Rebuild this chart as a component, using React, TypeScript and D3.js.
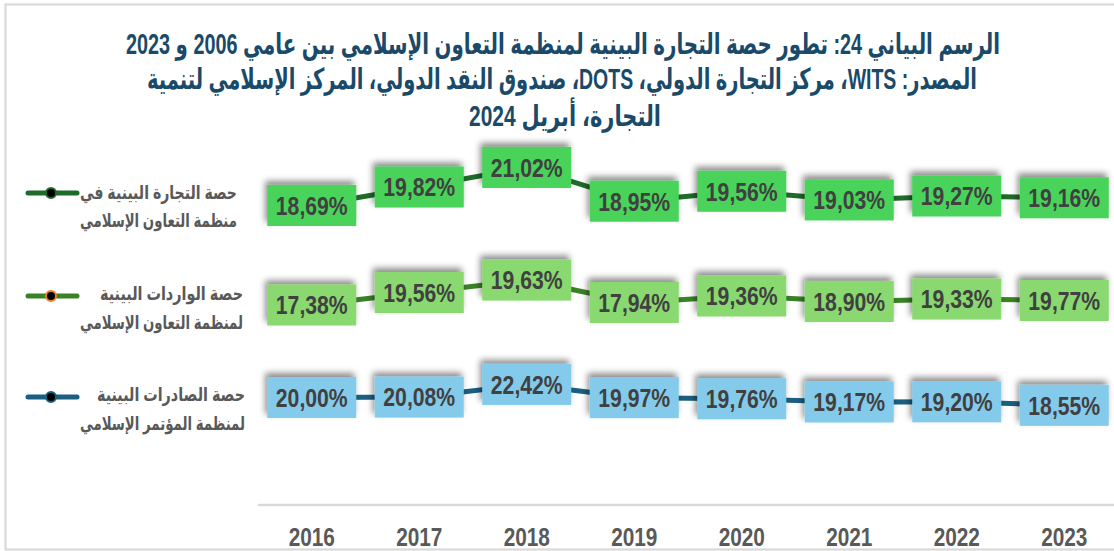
import React from "react";
import * as d3 from "d3";

const years = ["2016", "2017", "2018", "2019", "2020", "2021", "2022", "2023"];
// Labels shown in the chart (%)
const totalShare = [18.69, 19.82, 21.02, 18.95, 19.56, 19.03, 19.27, 19.16];
const importShare = [17.38, 19.56, 19.63, 17.94, 19.36, 18.9, 19.33, 19.77];
const exportShare = [20.0, 20.08, 22.42, 19.97, 19.76, 19.17, 19.2, 18.55];
// The original chart plots the import series at values that differ from its labels
// (read from the point positions in the picture)
const importPlotted = [17.38, 19.69, 22.0, 17.84, 19.05, 18.03, 18.49, 18.21];

const titleLines = [
  "الرسم البياني 24: تطور حصة التجارة البينية لمنظمة التعاون الإسلامي بين عامي 2006 و 2023",
  "المصدر: WITS، مركز التجارة الدولي، DOTS، صندوق النقد الدولي، المركز الإسلامي لتنمية",
  "التجارة، أبريل 2024",
];
const legendTotal = ["حصة التجارة البينية في", "منظمة التعاون الإسلامي"];
const legendImports = ["حصة الواردات البينية", "لمنظمة التعاون الإسلامي"];
const legendExports = ["حصة الصادرات البينية", "لمنظمة المؤتمر الإسلامي"];

const fmt = (v: number) => v.toFixed(2).replace(".", ",") + "%";

const LATIN = "'Liberation Sans', Arial, 'DejaVu Sans', sans-serif";

export default function App() {
  const W = 1114;
  const H = 551;
  const x = d3.scaleBand<string>().domain(years).range([258, 1118]);
  const cx = (y: string) => (x(y) as number) + x.bandwidth() / 2;

  const yTotal = d3.scaleLinear().domain([18, 22]).range([216.7, 151.5]);
  const yImports = d3.scaleLinear().domain([17, 23]).range([307.05, 274.65]);
  const yExports = d3.scaleLinear().domain([18, 23]).range([408.3, 381.3]);

  const series = [
    {
      labels: totalShare,
      plot: totalShare,
      y: yTotal,
      line: "#1f6b29",
      fill: "#48d35a",
      marker: "#1f6b29",
      legend: legendTotal,
      legendY: 193,
      legendText: [
        { cx: 158.5, w: 157, y: 193 },
        { cx: 158.5, w: 157, y: 221 },
      ],
    },
    {
      labels: importShare,
      plot: importPlotted,
      y: yImports,
      line: "#3a8226",
      fill: "#89d870",
      marker: "#ed7d31",
      legend: legendImports,
      legendY: 296,
      legendText: [
        { cx: 171.5, w: 143, y: 294 },
        { cx: 161.5, w: 163, y: 323 },
      ],
    },
    {
      labels: exportShare,
      plot: exportShare,
      y: yExports,
      line: "#1b5f80",
      fill: "#84caeb",
      marker: "#1b5f80",
      legend: legendExports,
      legendY: 397,
      legendText: [
        { cx: 171, w: 148, y: 395 },
        { cx: 162.5, w: 165, y: 424 },
      ],
    },
  ];

  const boxW = 89;
  const boxH = 41;

  return (
    <svg
      width={W}
      height={H}
      style={{ position: "absolute", left: 0, top: 0, background: "#fff" }}
    >
      <defs>
        <filter id="shadow" x="-30%" y="-50%" width="160%" height="200%">
          <feDropShadow dx={-2} dy={-4} stdDeviation={3} floodColor="#000" floodOpacity={0.45} />
        </filter>
      </defs>
      <rect x={0} y={0} width={W} height={H} fill="#fff" />
      {/* frame */}
      <rect x={5.5} y={4.5} width={W + 20} height={545} fill="none" stroke="#d9d9d9" strokeWidth={2.2} />

      {/* title */}
      {titleLines.map((t, i) => (
        <text
          key={i}
          x={[563, 562, 565][i]}
          y={[54, 89, 126][i]}
          direction="rtl"
          textAnchor="middle"
          fontFamily={LATIN}
          fontWeight="bold"
          fontSize={29}
          fill="#1a4a69"
          textLength={[874, 830, 192][i]}
          lengthAdjust="spacingAndGlyphs"
        >
          {t}
        </text>
      ))}

      {/* x axis */}
      <line x1={258} x2={W} y1={505} y2={505} stroke="#d9d9d9" strokeWidth={2.5} />
      {years.map((yr) => (
        <text
          key={yr}
          transform={`translate(${cx(yr)},546) scale(0.8,1)`}
          textAnchor="middle"
          fontFamily={LATIN}
          fontWeight="bold"
          fontSize={26}
          fill="#595959"
        >
          {yr}
        </text>
      ))}

      {/* series */}
      {series.map((s, si) => {
        const lineGen = d3
          .line<number>()
          .x((_, i) => cx(years[i]))
          .y((d) => s.y(d));
        return (
          <g key={si}>
            <path d={lineGen(s.plot) || ""} fill="none" stroke={s.line} strokeWidth={5} strokeLinejoin="round" />
            {s.plot.map((v, i) => {
              const px = cx(years[i]);
              const py = s.y(v);
              return (
                <g key={i}>
                  <rect
                    x={px - boxW / 2}
                    y={py - boxH / 2}
                    width={boxW}
                    height={boxH}
                    fill={s.fill}
                    filter="url(#shadow)"
                  />
                  <text
                    transform={`translate(${px},${py}) scale(0.815,1)`}
                    dy="0.36em"
                    textAnchor="middle"
                    fontFamily={LATIN}
                    fontWeight="bold"
                    fontSize={26}
                    fill="#404040"
                  >
                    {fmt(s.labels[i])}
                  </text>
                </g>
              );
            })}
            {/* legend */}
            <line x1={28} x2={77} y1={s.legendY} y2={s.legendY} stroke={s.line} strokeWidth={5} strokeLinecap="round" />
            <circle cx={51} cy={s.legendY} r={5} fill="#000" stroke={s.marker} strokeWidth={2} />
            {s.legend.map((t, li) => (
              <text
                key={li}
                x={s.legendText[li].cx}
                y={s.legendText[li].y}
                dy="0.3em"
                textAnchor="middle"
                direction="rtl"
                fontFamily={LATIN}
                fontWeight="bold"
                fontSize={19}
                fill="#595959"
                textLength={s.legendText[li].w}
                lengthAdjust="spacingAndGlyphs"
              >
                {t}
              </text>
            ))}
          </g>
        );
      })}
    </svg>
  );
}
